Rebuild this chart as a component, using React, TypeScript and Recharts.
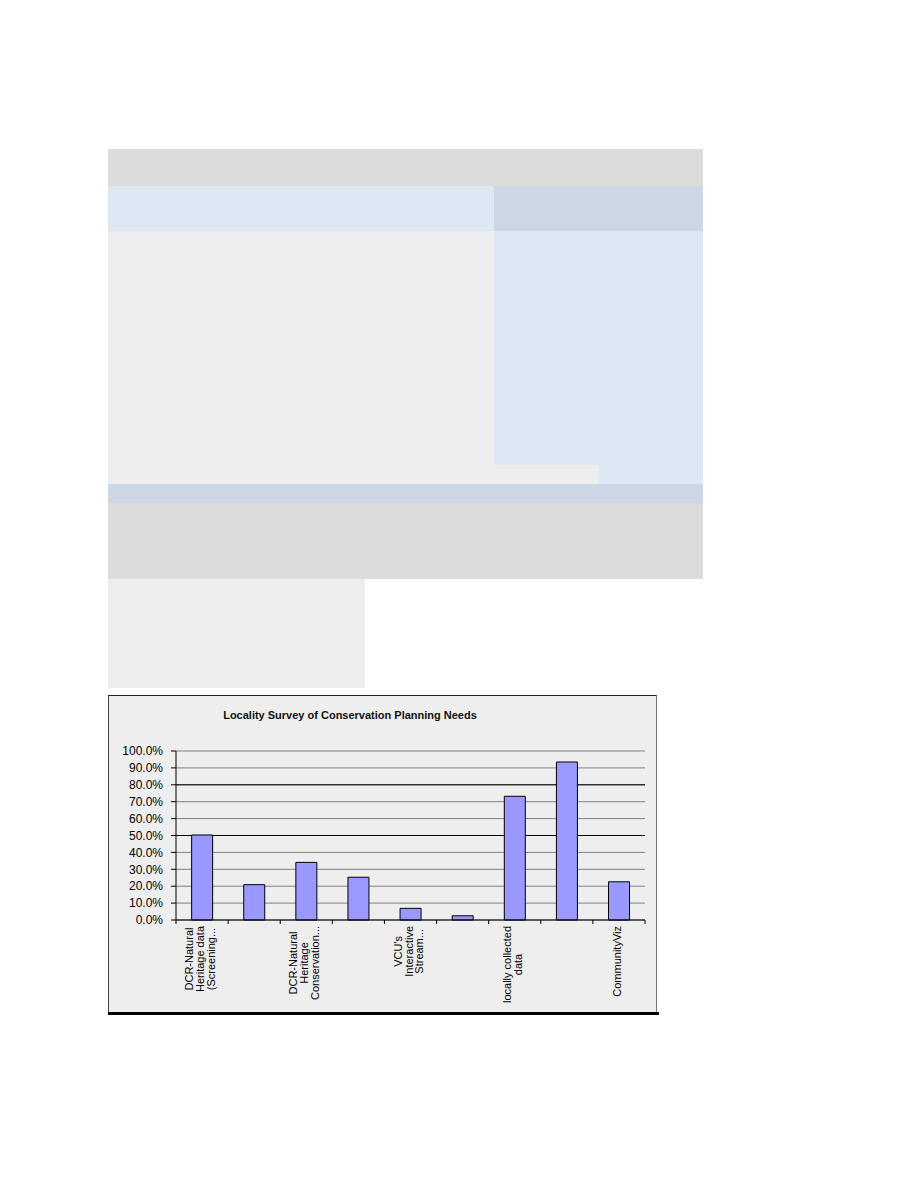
import React from 'react';
import {
  BarChart,
  Bar,
  XAxis,
  YAxis,
  CartesianGrid,
} from 'recharts';

// values (share of localities, 0-1)
const CATEGORY_IDS = ['c1', 'c2', 'c3', 'c4', 'c5', 'c6', 'c7', 'c8', 'c9'];
const SHARES = [0.503, 0.209, 0.341, 0.253, 0.069, 0.025, 0.732, 0.935, 0.226];
// Excel only printed every other label; the rest stay blank
const X_LABELS: string[][] = [
  ['DCR-Natural', 'Heritage data', '(Screening...'],
  [],
  ['DCR-Natural', 'Heritage', 'Conservation...'],
  [],
  ["VCU's", 'Interactive', 'Stream...'],
  [],
  ['locally collected', 'data'],
  [],
  ['CommunityViz'],
];
const Y_TICKS = [0, 0.1, 0.2, 0.3, 0.4, 0.5, 0.6, 0.7, 0.8, 0.9, 1];
const DARK_LINES = [0.5, 0.8];
const TITLE = 'Locality Survey of Conservation Planning Needs';

const data = CATEGORY_IDS.map((id, i) => ({ id, share: SHARES[i] }));

const FONT = "'Liberation Sans', Arial, sans-serif";
const CHART_W = 549;
const CHART_H = 320;
const MARGIN = { top: 56, right: 12, bottom: 5, left: 8 };
const Y_AXIS_W = 60;
const BAND = (CHART_W - MARGIN.left - MARGIN.right - Y_AXIS_W) / CATEGORY_IDS.length;
const LINE_H = 10.8;

let ctx: CanvasRenderingContext2D | null = null;
function measure(t: string) {
  if (!ctx) ctx = document.createElement('canvas').getContext('2d');
  if (!ctx) return t.length * 5.5;
  ctx.font = `11px ${FONT}`;
  return ctx.measureText(t).width;
}

function XTick(props: any) {
  const { x, y, index } = props;
  const lines = X_LABELS[index] || [];
  const half = BAND / 2;
  const n = lines.length;
  const maxW = n ? Math.max(...lines.map(measure)) : 0;
  return (
    <g>
      <line x1={x + half} x2={x + half} y1={y} y2={y + 4} stroke="#000" />
      {index === 0 && <line x1={x - half} x2={x - half} y1={y} y2={y + 4} stroke="#000" />}
      {n > 0 && (
        <g transform={`translate(${x - 2},${y}) rotate(-90)`}>
          {lines.map((t, i) => (
            <text
              key={i}
              x={-(6 + maxW / 2)}
              y={(i - (n - 1) / 2) * LINE_H + 4}
              textAnchor="middle"
              fontSize={11}
              fontFamily={FONT}
              fill="#000"
            >
              {t}
            </text>
          ))}
        </g>
      )}
    </g>
  );
}

const block = (left: number, top: number, width: number, height: number, bg: string) => (
  <div style={{ position: 'absolute', left, top, width, height, background: bg }} />
);

export default function App() {
  return (
    <div style={{ position: 'absolute', left: 0, top: 0, width: 918, height: 1188, background: '#fff' }}>
      {/* page blocks above the chart */}
      {block(108, 149, 595, 37, '#dcdcdc')}
      {block(108, 186, 386, 45, '#dde8f5')}
      {block(494, 186, 209, 45, '#cbd7e5')}
      {block(108, 231, 386, 253, '#ededed')}
      {block(494, 231, 209, 253, '#dde8f5')}
      {block(494, 465, 105, 19, '#ededed')}
      {block(108, 484, 595, 19, '#cbd7e5')}
      {block(108, 503, 595, 76, '#dcdcdc')}
      {block(108, 579, 257, 109, '#ededed')}

      {/* chart frame */}
      <div
        style={{
          position: 'absolute',
          left: 108,
          top: 695,
          width: CHART_W,
          height: CHART_H,
          background: '#eeeeee',
          borderTop: '1px solid #222',
          borderLeft: '1px solid #444',
          borderRight: '1px solid #777',
          boxSizing: 'border-box',
        }}
      />
      {block(108, 1012, 551, 3, '#000')}
      <div
        style={{
          position: 'absolute',
          left: 108,
          top: 709,
          width: 484,
          textAlign: 'center',
          fontFamily: FONT,
          fontWeight: 'bold',
          fontSize: 11,
          color: '#111',
          whiteSpace: 'nowrap',
        }}
      >
        {TITLE}
      </div>
      <div style={{ position: 'absolute', left: 108, top: 695 }}>
        <BarChart width={CHART_W} height={CHART_H} data={data} margin={MARGIN} barCategoryGap="30%">
          <CartesianGrid horizontal vertical={false} stroke="#808080" />
          <CartesianGrid horizontal vertical={false} horizontalValues={DARK_LINES} stroke="#000" />
          <XAxis
            dataKey="id"
            interval={0}
            height={90}
            axisLine={{ stroke: '#000' }}
            tickLine={false}
            tickSize={0}
            tickMargin={0}
            tick={<XTick />}
          />
          <YAxis
            width={Y_AXIS_W}
            domain={[0, 1]}
            ticks={Y_TICKS}
            interval={0}
            axisLine={{ stroke: '#000' }}
            tickLine={{ stroke: '#000' }}
            tickSize={5}
            tickMargin={8}
            tickFormatter={(v: number) => `${(v * 100).toFixed(1)}%`}
            tick={{ fontSize: 12, fill: '#000', fontFamily: FONT }}
          />
          <Bar dataKey="share" fill="#9999ff" stroke="#000" strokeWidth={1} isAnimationActive={false} />
        </BarChart>
      </div>
    </div>
  );
}
